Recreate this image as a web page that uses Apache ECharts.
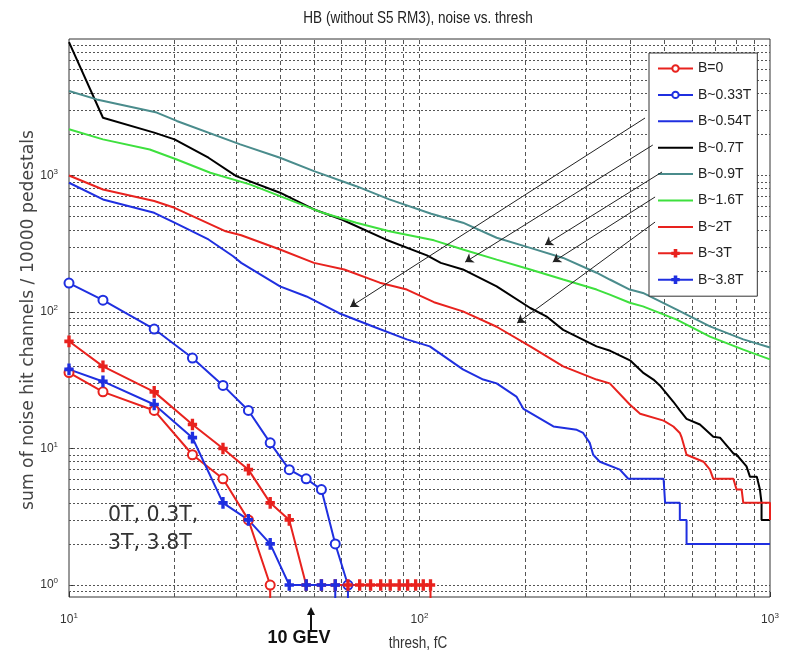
<!DOCTYPE html>
<html><head><meta charset="utf-8">
<script src="https://cdn.jsdelivr.net/npm/echarts@6/dist/echarts.min.js"></script>
<style>html,body{margin:0;padding:0;background:#fff}#c{width:786px;height:654px}</style>
</head><body><div id="c"></div>
<script>
// ---------- data ----------
const legendNames = ['B=0','B~0.33T','B~0.54T','B~0.7T','B~0.9T','B~1.6T','B~2T','B~3T','B~3.8T'];
// thresholds (fC) used by the marker curves
const markerThresh = [10,12.5,17.5,22.5,27.5,32.5,37.5,42.5,47.5,52.5,57.5,62.5,67.5,72.5,77.5,82.5,87.5,92.5,97.5,102.5,107.5];
// a 0 means "no hits": the curve drops off the bottom of the log axis
const valB0   = [36,26,19,9,6,3,1,0];
const valB033 = [163,122,75,46,29,19,11,7,6,5,2,1,0];
const valB3   = [61,40,26,15,10,7,4,3,1,1,1,1,1,1,1,1,1,1,1,1,1,0];
const valB38  = [38,31,21,12,4,3,2,1,1,1,1,0];

const xB054 = [10,12.5,17.5,20,25,29.4,31,40,47.6,59,74,92,107,133,152,166,189,198,241,281,293,306,313,327,373,394,497,502,553,553,578,578,1000];
const yB054 = [885,668,533,451,340,256,229,154,130,98,78,63,56,38,32,30,24,19.5,14.5,13.7,13,11,9,8,7,6,6,4,4,3,3,2,2];
const xB07  = [10,12.5,17.5,20,25,30,40,50,60,80,105,115,133,166,207,230,257,320,350,400,434,465,485,530,553,578,631,689,720,786,803,857,877,917,936,946,946,1000];
const yB07  = [9500,2650,2060,1840,1350,990,748,564,476,340,260,229,205,154,107,93,74,56,52,44,36,32,29,22,19,16.5,15,12.2,12,9.2,9,7.4,6.2,6.2,5,4,3,3];
const xB09  = [10,12,17.8,20.3,30.8,40,50,66,82,108,133,166,207,257,320,349,398,434,542,674,839,1000];
const yB09  = [4160,3610,2890,2510,1690,1350,1077,835,668,525,451,350,295,249,194,173,146,138,104,78.5,63,55];
const xB16  = [10,12.5,17,20.3,25.3,32.8,40,53,66,82,110,133,166,207,257,320,349,398,434,542,674,839,1000];
const yB16  = [2180,1840,1550,1310,1047,861,706,533,451,391,335,287,242,205,173,146,134,117,110,88,66,53,45];
const xB2   = [10,12.5,17.5,20,28,31,40,50,61,77,92,110,133,166,207,257,320,349,398,426,497,530,553,560,578,646,674,689,786,803,830,839,1000,1000];
const yB2   = [1000,790,650,580,390,365,287,229,205,164,146,118,101,78,56,40,32,30,21,18,16,14.5,13,12,9,8,7,6,6,5,5,4,4,3];

// grid lines (log minor + major positions)
const xGrid = [20,30,40,50,60,70,80,90,100,200,300,400,500,600,700,800,900];
const yGrid = [0.9,1,2,3,4,5,6,7,8,9,10,20,30,40,50,60,70,80,90,100,200,300,400,500,600,700,800,900,1000,2000,3000,4000,5000,6000,7000,8000,9000];

// annotation arrows: [fromX, fromY, toX, toY] in data units
const arrows = [
  [440,2637,63.4,109],
  [463,1672,135,232],
  [492,1061,228,310],
  [470,696,240,232],
  [470,456,190,83]
];

// ---------- helpers ----------
const SANS = '"Liberation Sans",Arial,sans-serif';
function pairs(xs, ys){ return xs.map((x,i)=>[x, ys[i]]); }
function markerData(vals){
  const out=[];
  for(let i=0;i<vals.length;i++){
    if(vals[i]===0){ out.push([markerThresh[i-1], 1e-3]); break; }
    out.push([markerThresh[i], vals[i]]);
  }
  return out;
}
function powLabel(v){
  const e=Math.log10(v), r=Math.round(e);
  if(Math.abs(e-r)>1e-6 || r>3) return '';
  return '{b|10}{s|'+r+'}';
}
const labelRich = {
  b:{fontFamily:SANS,fontSize:12,color:'#333'},
  s:{fontFamily:SANS,fontSize:8,color:'#333',padding:[0,0,8,0]}
};

const RED='#e8221e', BLUE='#1f2fe0', BLACK='#000', TEAL='#4a8c8c', GREEN='#3ee03e';
const plus = 'path://M3,0H5V4H8V6H5V10H3V6H0V4H3Z';
const lineIcon = 'path://M0,0H35V2H0Z';

function lineSeries(name, data, color, symbol, symSize){
  return {
    name, type:'line', data, z:2,
    symbol: symbol||'none', symbolSize: symSize||8, showSymbol: !!symbol,
    lineStyle:{color, width:2}, itemStyle:{color, borderColor:color, borderWidth:1.5},
    emphasis:{disabled:true}, clip:true
  };
}

const series = [
  lineSeries('B=0', markerData(valB0), RED, 'emptyCircle', 9),
  lineSeries('B~0.33T', markerData(valB033), BLUE, 'emptyCircle', 9),
  lineSeries('B~0.54T', pairs(xB054,yB054), BLUE),
  lineSeries('B~0.7T', pairs(xB07,yB07), BLACK),
  lineSeries('B~0.9T', pairs(xB09,yB09), TEAL),
  lineSeries('B~1.6T', pairs(xB16,yB16), GREEN),
  lineSeries('B~2T', pairs(xB2,yB2), RED),
  lineSeries('B~3T', markerData(valB3), RED, plus, [8,10]),
  lineSeries('B~3.8T', markerData(valB38), BLUE, plus, [8,10]),
  { // grid lines
    name:'_grid', type:'line', data:[], z:1, silent:true,
    markLine:{
      z:1, silent:true, symbol:'none', animation:false, label:{show:false},
      data: xGrid.map(v=>({xAxis:v, lineStyle:{type:[4,3],color:'#555',width:1}}))
        .concat(yGrid.map(v=>({yAxis:v, lineStyle:{type:[2,2],color:'#555',width:1}})))
    }
  },
  { // annotation arrows
    name:'_arrows', type:'line', data:[], z:8, silent:true,
    markLine:{
      z:8, silent:true, symbol:['none','arrow'], symbolSize:8, animation:false, label:{show:false},
      lineStyle:{type:'solid',color:'#222',width:1},
      data: arrows.map(a=>[{coord:[a[0],a[1]]},{coord:[a[2],a[3]]}])
    }
  }
];

const markerSeries = ['B=0','B~0.33T','B~3T','B~3.8T'];
const legendData = legendNames.map(n => markerSeries.includes(n) ? {name:n}
  : {name:n, icon:lineIcon, itemStyle:{borderWidth:0}});

const chart = echarts.init(document.getElementById('c'), null, {renderer:'canvas'});
chart.setOption({
  animation:false,
  backgroundColor:'#fff',
  grid:{left:69,right:16,top:39,bottom:57,show:true,borderColor:'#333',borderWidth:1,backgroundColor:'transparent'},
  xAxis:{type:'log',logBase:10,min:10,max:1000,
    axisLine:{show:false}, splitLine:{show:false},
    axisTick:{show:true,inside:true,length:5,lineStyle:{color:'#333'}},
    axisLabel:{formatter:powLabel,rich:labelRich,margin:15}},
  yAxis:{type:'log',logBase:10,min:0.817,max:10000,
    axisLine:{show:false}, splitLine:{show:false},
    axisTick:{show:true,inside:true,length:5,lineStyle:{color:'#333'}},
    axisLabel:{formatter:powLabel,rich:labelRich,margin:11,showMinLabel:false,showMaxLabel:false}},
  legend:{
    data:legendData, orient:'vertical', left:649, top:53, z:6,
    padding:[7,6,8,8], itemGap:9.4, itemWidth:35, itemHeight:8, symbolKeepAspect:true,
    backgroundColor:'#fff', borderColor:'#333', borderWidth:1,
    selectedMode:false,
    textStyle:{fontFamily:SANS,fontSize:14,color:'#222',lineHeight:17}
  },
  graphic:[
    {type:'text', z:10, x:418, y:18, scaleX:0.82, style:{text:'HB (without S5 RM3), noise vs. thresh', x:0, y:0,
      font:'16.5px '+SANS, fill:'#222', align:'center', verticalAlign:'middle'}},
    {type:'text', z:10, x:418, y:643, scaleX:0.82, style:{text:'thresh, fC', x:0, y:0, font:'16.5px '+SANS, fill:'#333', align:'center', verticalAlign:'middle'}},
    {type:'text', z:10, x:29, y:320, rotation:Math.PI/2, style:{text:'sum of noise hit channels / 10000 pedestals', font:'17.2px "DejaVu Sans"', fill:'#444', align:'center', verticalAlign:'middle'}},
    {type:'text', z:10, x:108, y:516, style:{text:'0T, 0.3T,', font:'20.5px "DejaVu Sans"', fill:'#333', align:'left', verticalAlign:'middle'}},
    {type:'text', z:10, x:108, y:544, style:{text:'3T, 3.8T', font:'20.5px "DejaVu Sans"', fill:'#333', align:'left', verticalAlign:'middle'}},
    {type:'text', z:10, x:299, y:638, style:{text:'10 GEV', font:'bold 18px '+SANS, fill:'#111', align:'center', verticalAlign:'middle'}},
    {type:'line', z:10, shape:{x1:311,y1:630,x2:311,y2:613}, style:{stroke:'#111',lineWidth:2}},
    {type:'polygon', z:10, shape:{points:[[311,607],[307,615],[315,615]]}, style:{fill:'#111'}}
  ],
  series
});
</script></body></html>
